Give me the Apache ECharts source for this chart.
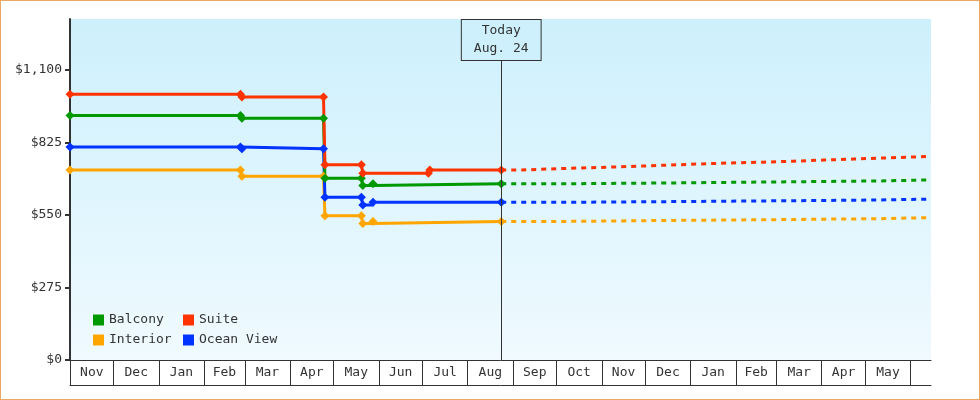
<!DOCTYPE html>
<html>
<head>
<meta charset="utf-8">
<title>Cabin prices</title>
<script src="https://cdn.jsdelivr.net/npm/echarts@6/dist/echarts.min.js"></script>
<style>
html, body { margin: 0; padding: 0; background: #fff; }
#wrap { position: relative; width: 980px; height: 400px; }
#main { position: absolute; left: 0; top: 0; width: 980px; height: 400px; }
#frame { position: absolute; left: 0; top: 0; width: 980px; height: 400px;
         box-sizing: border-box; border: 1px solid #eba864; pointer-events: none; }
</style>
</head>
<body>
<div id="wrap">
    <div id="main"></div>
    <div id="frame"></div>
</div>
<script>
// price history (solid) and forecast (dashed), [date, $]
var balconyPast = [['2024-11-01', 927], ['2025-02-26', 927], ['2025-02-27', 917], ['2025-04-24', 917],
    ['2025-04-25', 689], ['2025-05-20', 689], ['2025-05-21', 662], ['2025-05-28', 668], ['2025-08-24', 668]];
var suitePast = [['2024-11-01', 1008], ['2025-02-26', 1008], ['2025-02-27', 997], ['2025-04-24', 997],
    ['2025-04-25', 740], ['2025-05-20', 740], ['2025-05-21', 708], ['2025-07-05', 708], ['2025-07-06', 720],
    ['2025-08-24', 720]];
var interiorPast = [['2024-11-01', 720], ['2025-02-26', 720], ['2025-02-27', 697], ['2025-04-24', 697],
    ['2025-04-25', 547], ['2025-05-20', 547], ['2025-05-21', 518], ['2025-05-28', 525], ['2025-08-24', 525]];
var oceanPast = [['2024-11-01', 808], ['2025-02-26', 808], ['2025-02-27', 801], ['2025-04-24', 801],
    ['2025-04-25', 617], ['2025-05-20', 617], ['2025-05-21', 588], ['2025-05-28', 598], ['2025-08-24', 598]];

var balconyFuture = [['2025-08-24', 668], ['2025-09-29', 671], ['2025-12-12', 675], ['2026-02-25', 679],
    ['2026-05-12', 683], ['2026-06-15', 683]];
var suiteFuture = [['2025-08-24', 720], ['2025-09-04', 724], ['2025-09-25', 728], ['2025-10-16', 731],
    ['2025-11-05', 735], ['2025-11-26', 739], ['2025-12-17', 743], ['2026-01-06', 747], ['2026-01-27', 750],
    ['2026-02-20', 754], ['2026-03-13', 758], ['2026-04-02', 762], ['2026-04-23', 766], ['2026-05-14', 770],
    ['2026-06-04', 773], ['2026-06-15', 773]];
var interiorFuture = [['2025-08-24', 525], ['2025-09-29', 529], ['2025-12-12', 532], ['2026-02-25', 536],
    ['2026-05-12', 540], ['2026-06-15', 540]];
var oceanFuture = [['2025-08-24', 598], ['2025-10-12', 602], ['2026-01-22', 606], ['2026-04-28', 610],
    ['2026-06-15', 610]];

var monthStarts = ['2024-11-01', '2024-12-01', '2025-01-01', '2025-02-01', '2025-03-01', '2025-04-01',
    '2025-05-01', '2025-06-01', '2025-07-01', '2025-08-01', '2025-09-01', '2025-10-01', '2025-11-01',
    '2025-12-01', '2026-01-01', '2026-02-01', '2026-03-01', '2026-04-01', '2026-05-01', '2026-06-01'];
var monthLabels = ['Nov', 'Dec', 'Jan', 'Feb', 'Mar', 'Apr', 'May', 'Jun', 'Jul', 'Aug',
    'Sep', 'Oct', 'Nov', 'Dec', 'Jan', 'Feb', 'Mar', 'Apr', 'May'];
var yTicks = [0, 275, 550, 825, 1100];

var today = '2025-08-24';
var xStart = '2024-11-01', xEnd = '2026-06-15';

var MONO = '"DejaVu Sans Mono", monospace';
var INK = '#333';

function t(s) {
    var p = s.split('-');
    return new Date(+p[0], p[1] - 1, +p[2]).getTime();
}
function pts(arr) {
    return arr.map(function (d) { return [t(d[0]), d[1]]; });
}

// x is a plain value axis over timestamps so the month cells can be laid out by hand
var tickTimes = monthStarts.map(t);
var labelTimes = [];
var labelByTime = {};
for (var i = 0; i < monthLabels.length; i++) {
    var mid = Math.round((tickTimes[i] + tickTimes[i + 1]) / 2);
    labelTimes.push(mid);
    labelByTime[mid] = monthLabels[i];
}

var myChart = echarts.init(document.getElementById('main'));

function pastSeries(name, color, data, extra) {
    var s = {
        name: name, type: 'line', step: 'end', data: pts(data),
        symbol: 'diamond', symbolSize: 9, showAllSymbol: true,
        itemStyle: {color: color}, lineStyle: {color: color, width: 3},
        z: 3
    };
    if (extra) { for (var k in extra) s[k] = extra[k]; }
    return s;
}
function futureSeries(name, color, data) {
    return {
        name: name, type: 'line', step: 'end', data: pts(data),
        showSymbol: false, itemStyle: {color: color},
        lineStyle: {color: color, width: 3, type: [5, 5], cap: 'butt'},
        z: 2
    };
}

var legendText = {fontFamily: MONO, fontSize: 13, color: INK, lineHeight: 14};

var option = {
    animation: false,
    grid: {
        left: 70, right: 49, top: 19, bottom: 40,
        show: true, borderWidth: 0, outerBoundsMode: 'none',
        backgroundColor: new echarts.graphic.LinearGradient(0, 0, 0, 1, [
            {offset: 0, color: '#cdf0fc'},
            {offset: 1, color: '#f0faff'}
        ])
    },
    legend: [
        {data: ['Balcony', 'Interior'], orient: 'vertical', left: 93, top: 313, padding: 0, icon: 'rect',
            itemWidth: 11, itemHeight: 11, itemGap: 6, selectedMode: false, textStyle: legendText},
        {data: ['Suite', 'Ocean View'], orient: 'vertical', left: 183, top: 313, padding: 0, icon: 'rect',
            itemWidth: 11, itemHeight: 11, itemGap: 6, selectedMode: false, textStyle: legendText}
    ],
    xAxis: [{
        type: 'value', min: t(xStart), max: t(xEnd), scale: true,
        axisLine: {show: true, lineStyle: {color: INK, width: 1}},
        axisTick: {show: true, inside: false, length: 25, customValues: tickTimes,
            lineStyle: {color: INK, width: 1}},
        axisLabel: {
            customValues: labelTimes, margin: 6, fontFamily: MONO, fontSize: 13, color: INK,
            formatter: function (v) { return labelByTime[v] || ''; }
        },
        splitLine: {show: false}
    }, {
        // bottom rule of the month row
        type: 'value', min: t(xStart), max: t(xEnd), scale: true, position: 'bottom', offset: 25,
        axisLine: {show: true, lineStyle: {color: INK, width: 1}},
        axisTick: {show: false}, axisLabel: {show: false}, splitLine: {show: false}
    }],
    yAxis: {
        type: 'value', min: 0, max: 1293,
        axisLine: {show: true, lineStyle: {color: INK, width: 2}},
        axisTick: {show: true, length: 5, customValues: yTicks, lineStyle: {color: INK, width: 2}},
        axisLabel: {
            customValues: yTicks, margin: 8, fontFamily: MONO, fontSize: 13, color: INK,
            formatter: function (v) { return '$' + v.toLocaleString('en-US'); }
        },
        splitLine: {show: false}
    },
    series: [
        pastSeries('Interior', '#ffa500', interiorPast, {
            markLine: {
                silent: true, symbol: ['none', 'none'],
                lineStyle: {color: INK, width: 1, type: 'solid'},
                label: {
                    show: true, position: 'end', distance: 0,
                    formatter: 'Today\nAug. 24',
                    fontFamily: MONO, fontSize: 13, color: INK, lineHeight: 18,
                    backgroundColor: '#cdf0fc', borderColor: INK, borderWidth: 1,
                    padding: [2, 12, 2, 12]
                },
                data: [[{coord: [t(today), 0]}, {coord: [t(today), 1138]}]]
            }
        }),
        pastSeries('Ocean View', '#0033ff', oceanPast),
        pastSeries('Balcony', '#009900', balconyPast),
        pastSeries('Suite', '#ff3300', suitePast),
        futureSeries('Interior', '#ffa500', interiorFuture),
        futureSeries('Ocean View', '#0033ff', oceanFuture),
        futureSeries('Balcony', '#009900', balconyFuture),
        futureSeries('Suite', '#ff3300', suiteFuture)
    ]
};

myChart.setOption(option);
</script>
</body>
</html>
